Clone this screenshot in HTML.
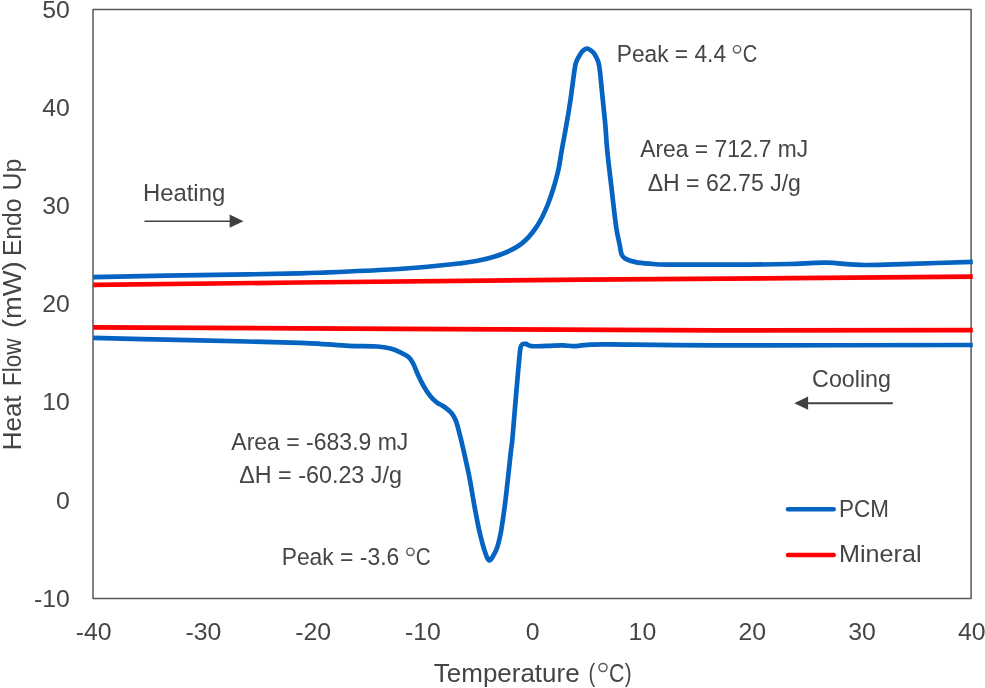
<!DOCTYPE html>
<html><head><meta charset="utf-8"><title>DSC</title><style>html,body{margin:0;padding:0;background:#fff}svg{display:block}text{font-family:"Liberation Sans",sans-serif;fill:#454545}</style></head><body>
<svg style="will-change:transform" width="985" height="688" viewBox="0 0 985 688">
<rect width="985" height="688" fill="#fff"/>
<path d="M93.00 9.40 H971.10 V598.50 H93.00 Z" fill="none" stroke="#585858" stroke-width="1.5" stroke-linejoin="round"/>
<g fill="none" stroke-width="4.7" stroke-linejoin="round" stroke-linecap="butt">
<path d="M93.2 284.9 L300.0 282.5 L585.0 279.7 L972.8 276.7" stroke="#FF0000"/>
<path d="M93.2 327.4 L300.0 328.4 L500.0 329.4 L715.0 330.3 L972.8 330.2" stroke="#FF0000"/>
<path d="M93.2 277.1 C105.3 276.9 140.4 276.1 166.0 275.6 C191.6 275.2 224.7 274.8 247.0 274.4 C269.3 274.0 286.3 273.8 300.0 273.4 C313.7 273.0 314.0 272.9 329.0 272.3 C344.0 271.7 373.2 270.5 390.0 269.5 C406.8 268.5 418.5 267.5 430.0 266.5 C441.5 265.5 450.7 264.5 459.0 263.5 C467.3 262.5 472.7 261.9 480.0 260.3 C487.3 258.7 495.8 256.6 502.7 253.8 C509.6 251.0 515.9 248.1 521.6 243.6 C527.3 239.1 532.3 233.2 536.7 226.6 C541.1 220.0 544.5 212.8 548.0 204.0 C551.5 195.2 555.2 182.7 557.5 173.7 C559.8 164.7 560.3 158.0 561.8 150.0 C563.2 142.0 564.8 134.3 566.2 125.9 C567.7 117.5 569.2 108.5 570.5 99.8 C571.8 91.1 573.1 79.7 574.0 73.6 C574.9 67.5 574.9 66.2 575.8 63.1 C576.7 60.1 578.4 57.4 579.6 55.3 C580.8 53.2 582.0 51.7 583.2 50.6 C584.5 49.5 585.8 48.7 587.1 48.7 C588.4 48.7 589.6 49.6 590.8 50.4 C592.0 51.2 593.0 51.7 594.3 53.7 C595.6 55.7 597.4 59.0 598.4 62.3 C599.4 65.6 599.5 67.3 600.2 73.6 C600.9 79.8 601.9 91.1 602.8 99.8 C603.7 108.5 604.7 117.5 605.4 125.9 C606.1 134.3 606.2 139.5 607.2 150.0 C608.2 160.5 610.1 176.0 611.6 188.8 C613.1 201.6 614.8 217.2 616.1 226.6 C617.5 236.0 618.8 240.4 619.7 245.0 C620.6 249.6 620.7 252.0 621.6 254.3 C622.5 256.6 622.9 257.3 625.2 258.6 C627.5 259.9 631.5 261.2 635.6 262.1 C639.7 263.0 644.4 263.3 650.0 263.7 C655.6 264.1 652.8 264.5 669.0 264.6 C685.2 264.8 727.2 264.7 747.4 264.6 C767.6 264.5 777.0 264.3 790.0 264.0 C803.0 263.7 813.3 262.5 825.7 262.7 C838.1 262.9 850.3 264.8 864.3 265.0 C878.3 265.2 891.8 264.4 909.9 263.9 C928.0 263.4 962.3 262.1 972.8 261.8" stroke="#0563C1"/>
<path d="M93.2 337.8 C105.3 338.1 140.4 339.1 166.0 339.7 C191.6 340.3 224.7 341.0 247.0 341.5 C269.3 342.0 287.8 342.5 300.0 342.9 C312.2 343.3 311.8 343.3 320.0 343.8 C328.2 344.3 339.4 345.4 349.0 345.9 C358.6 346.3 370.5 346.1 377.4 346.5 C384.3 346.9 386.6 347.5 390.5 348.5 C394.4 349.5 397.8 351.1 400.9 352.6 C403.9 354.1 406.8 355.5 408.8 357.3 C410.8 359.1 411.7 360.6 413.1 363.4 C414.6 366.1 415.8 370.0 417.5 373.8 C419.2 377.6 421.4 382.2 423.6 386.0 C425.8 389.8 428.4 393.8 430.6 396.5 C432.8 399.2 434.4 400.6 436.7 402.3 C439.0 404.1 442.0 405.2 444.5 407.0 C447.0 408.8 449.6 410.8 451.5 413.1 C453.4 415.4 454.6 417.6 455.9 420.9 C457.2 424.2 458.2 428.6 459.4 433.1 C460.6 437.6 461.4 440.8 463.0 448.0 C464.6 455.2 467.3 466.6 469.2 476.2 C471.1 485.8 472.8 497.1 474.4 505.8 C476.0 514.5 477.4 521.8 478.8 528.5 C480.2 535.2 481.9 541.4 483.1 545.9 C484.4 550.4 485.5 553.4 486.3 555.6 C487.1 557.8 487.3 558.1 487.8 558.9 C488.3 559.7 488.8 560.4 489.3 560.5 C489.8 560.6 490.3 560.0 490.9 559.4 C491.4 558.8 491.6 558.8 492.6 556.9 C493.6 555.0 495.8 551.6 497.1 547.7 C498.4 543.8 499.4 539.8 500.6 533.7 C501.8 527.6 502.9 519.7 504.1 511.0 C505.3 502.3 506.5 491.6 507.6 481.4 C508.8 471.2 510.2 456.9 511.0 450.0 C511.8 443.1 511.4 449.4 512.3 440.0 C513.2 430.6 515.1 406.0 516.2 393.3 C517.3 380.6 518.1 371.2 518.8 363.6 C519.5 356.0 519.9 351.1 520.5 347.9 C521.1 344.7 521.4 345.1 522.3 344.4 C523.2 343.7 524.2 343.6 525.8 343.9 C527.4 344.2 528.3 345.9 531.9 346.2 C535.5 346.5 542.4 345.9 547.6 345.8 C552.8 345.7 558.9 345.2 563.3 345.3 C567.6 345.4 569.6 346.3 573.7 346.2 C577.8 346.1 581.7 345.1 587.7 344.8 C593.8 344.5 588.8 344.3 610.0 344.4 C631.2 344.5 654.5 345.2 715.0 345.3 C775.5 345.4 929.8 345.1 972.8 345.0" stroke="#0563C1"/>
</g>
<text transform="translate(69.80,606.8) scale(1.080,1)" font-size="23" text-anchor="end">-10</text>
<text transform="translate(69.80,508.6) scale(1.080,1)" font-size="23" text-anchor="end">0</text>
<text transform="translate(69.80,410.4) scale(1.080,1)" font-size="23" text-anchor="end">10</text>
<text transform="translate(69.80,312.2) scale(1.080,1)" font-size="23" text-anchor="end">20</text>
<text transform="translate(69.80,214.1) scale(1.080,1)" font-size="23" text-anchor="end">30</text>
<text transform="translate(69.80,115.9) scale(1.080,1)" font-size="23" text-anchor="end">40</text>
<text transform="translate(69.80,17.7) scale(1.080,1)" font-size="23" text-anchor="end">50</text>
<text transform="translate(93.60,640.3) scale(1.080,1)" font-size="23" text-anchor="middle">-40</text>
<text transform="translate(203.36,640.3) scale(1.080,1)" font-size="23" text-anchor="middle">-30</text>
<text transform="translate(313.12,640.3) scale(1.080,1)" font-size="23" text-anchor="middle">-20</text>
<text transform="translate(422.89,640.3) scale(1.080,1)" font-size="23" text-anchor="middle">-10</text>
<text transform="translate(532.65,640.3) scale(1.080,1)" font-size="23" text-anchor="middle">0</text>
<text transform="translate(642.41,640.3) scale(1.080,1)" font-size="23" text-anchor="middle">10</text>
<text transform="translate(752.18,640.3) scale(1.080,1)" font-size="23" text-anchor="middle">20</text>
<text transform="translate(861.94,640.3) scale(1.080,1)" font-size="23" text-anchor="middle">30</text>
<text transform="translate(971.70,640.3) scale(1.080,1)" font-size="23" text-anchor="middle">40</text>
<text x="433.83" y="681.90" font-size="25" textLength="145.80" lengthAdjust="spacingAndGlyphs">Temperature</text>
<text x="588.51" y="681.90" font-size="25" textLength="6.73" lengthAdjust="spacingAndGlyphs">(</text>
<text x="609.03" y="681.90" font-size="25" textLength="15.42" lengthAdjust="spacingAndGlyphs">C</text>
<text x="624.76" y="681.90" font-size="25" textLength="6.89" lengthAdjust="spacingAndGlyphs">)</text>
<text x="616.73" y="62.00" font-size="23.7" textLength="109.33" lengthAdjust="spacingAndGlyphs">Peak = 4.4</text>
<text x="742.80" y="62.00" font-size="23.7" textLength="14.48" lengthAdjust="spacingAndGlyphs">C</text>
<text x="640.29" y="157.40" font-size="23.7" textLength="168.00" lengthAdjust="spacingAndGlyphs">Area = 712.7 mJ</text>
<text x="647.63" y="190.90" font-size="23.7" textLength="153.30" lengthAdjust="spacingAndGlyphs">ΔH = 62.75 J/g</text>
<text x="142.95" y="201.40" font-size="23.7" textLength="82.27" lengthAdjust="spacingAndGlyphs">Heating</text>
<text x="812.11" y="386.90" font-size="23.7" textLength="78.85" lengthAdjust="spacingAndGlyphs">Cooling</text>
<text x="231.30" y="449.70" font-size="23.7" textLength="177.07" lengthAdjust="spacingAndGlyphs">Area = -683.9 mJ</text>
<text x="239.22" y="483.00" font-size="23.7" textLength="162.69" lengthAdjust="spacingAndGlyphs">ΔH = -60.23 J/g</text>
<text x="281.66" y="564.80" font-size="23.7" textLength="117.54" lengthAdjust="spacingAndGlyphs">Peak = -3.6</text>
<text x="415.82" y="564.80" font-size="23.7" textLength="14.88" lengthAdjust="spacingAndGlyphs">C</text>
<text x="839.11" y="517.00" font-size="23.7" textLength="49.87" lengthAdjust="spacingAndGlyphs">PCM</text>
<text x="839.00" y="561.70" font-size="23.7" textLength="82.51" lengthAdjust="spacingAndGlyphs">Mineral</text>
<circle cx="603.00" cy="667.50" r="4.05" fill="none" stroke="#5c5c5c" stroke-width="1.45"/>
<circle cx="737.05" cy="49.30" r="3.65" fill="none" stroke="#5c5c5c" stroke-width="1.45"/>
<circle cx="410.40" cy="551.80" r="3.65" fill="none" stroke="#5c5c5c" stroke-width="1.45"/>
<text transform="translate(20.6,450.29) rotate(-90)" font-size="25" textLength="54.81" lengthAdjust="spacingAndGlyphs">Heat</text>
<text transform="translate(20.6,385.97) rotate(-90)" font-size="25" textLength="47.53" lengthAdjust="spacingAndGlyphs">Flow</text>
<text transform="translate(20.6,327.97) rotate(-90)" font-size="25" textLength="66.55" lengthAdjust="spacingAndGlyphs">(mW)</text>
<text transform="translate(20.6,256.12) rotate(-90)" font-size="25" textLength="57.67" lengthAdjust="spacingAndGlyphs">Endo</text>
<text transform="translate(20.6,190.38) rotate(-90)" font-size="25" textLength="31.86" lengthAdjust="spacingAndGlyphs">Up</text>
<line x1="144.5" y1="221.2" x2="231" y2="221.2" stroke="#404040" stroke-width="1.5"/>
<path d="M229.6 214.6 L243.5 221.2 L229.6 227.8 Z" fill="#404040"/>
<line x1="807" y1="403.2" x2="892.8" y2="403.2" stroke="#404040" stroke-width="1.9"/>
<path d="M808.1 396.6 L794.3 403.2 L808.1 409.8 Z" fill="#404040"/>
<line x1="788" y1="509.3" x2="833.7" y2="509.3" stroke="#0563C1" stroke-width="4.5" stroke-linecap="round"/>
<line x1="788" y1="554.9" x2="833.7" y2="554.9" stroke="#FF0000" stroke-width="4.5" stroke-linecap="round"/>
</svg></body></html>
